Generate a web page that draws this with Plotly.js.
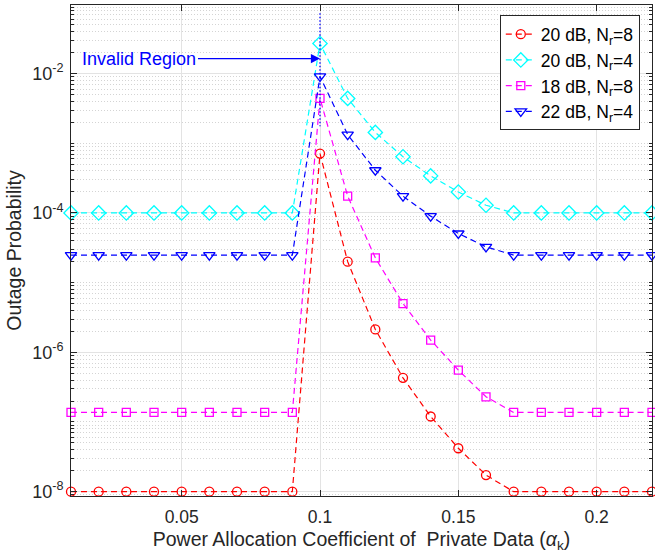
<!DOCTYPE html>
<html>
<head>
<meta charset="utf-8">
<script src="https://cdn.plot.ly/plotly-3.0.1.min.js"></script>
<style>html,body{margin:0;padding:0;background:#fff;}#chart{width:655px;height:560px;}</style>
</head>
<body>
<div id="chart"></div>
<script>
// ---- data ----
const alpha = [0.01,0.02,0.03,0.04,0.05,0.06,0.07,0.08,0.09,0.10,0.11,0.12,0.13,0.14,0.15,0.16,0.17,0.18,0.19,0.20,0.21,0.22];
const red_20dB_Nr8 = [1e-8,1e-8,1e-8,1e-8,1e-8,1e-8,1e-8,1e-8,1e-8,7.1e-4,2.0e-5,2.13e-6,4.3e-7,1.2e-7,4.2e-8,1.73e-8,1e-8,1e-8,1e-8,1e-8,1e-8,1e-8];
const cyan_20dB_Nr4 = [1e-4,1e-4,1e-4,1e-4,1e-4,1e-4,1e-4,1e-4,1e-4,2.7e-2,4.4e-3,1.43e-3,6.4e-4,3.4e-4,2.0e-4,1.29e-4,1e-4,1e-4,1e-4,1e-4,1e-4,1e-4];
const mag_18dB_Nr8 = [1.37e-7,1.37e-7,1.37e-7,1.37e-7,1.37e-7,1.37e-7,1.37e-7,1.37e-7,1.37e-7,4.4e-3,1.74e-4,2.27e-5,5.0e-6,1.5e-6,5.56e-7,2.3e-7,1.37e-7,1.37e-7,1.37e-7,1.37e-7,1.37e-7,1.37e-7];
const blue_22dB_Nr4 = [2.48e-5,2.48e-5,2.48e-5,2.48e-5,2.48e-5,2.48e-5,2.48e-5,2.48e-5,2.48e-5,9.1e-3,1.33e-3,4.1e-4,1.74e-4,9.0e-5,5.07e-5,3.26e-5,2.48e-5,2.48e-5,2.48e-5,2.48e-5,2.48e-5,2.48e-5];
const seriesNames = ["20 dB, N<sub>r</sub>=8","20 dB, N<sub>r</sub>=4","18 dB, N<sub>r</sub>=8","22 dB, N<sub>r</sub>=4"];
const invalidX = [0.1, 0.1];
const invalidY = [0.0733, 0.00175];
const xTickVals = [0.05, 0.1, 0.15, 0.2];
const xTickText = ["0.05", "0.1", "0.15", "0.2"];
const yTickVals = [1e-8, 1e-6, 1e-4, 1e-2];
const yTickText = ["10<sup>-8</sup>","10<sup>-6</sup>","10<sup>-4</sup>","10<sup>-2</sup>"];

// minor (log) tick positions
const yMinor = [];
for (let n = -9; n <= -1; n++) {
  for (let k = 1; k <= 9; k++) {
    const v = k * Math.pow(10, n);
    if (k === 1 && n % 2 === 0) continue;
    yMinor.push(v);
  }
}

const FONT = '"Liberation Sans", Arial, Helvetica, sans-serif';
const AX = '#262626';
const dashPat = '6px,4px';

function tr(y, name, color, symbol, size) {
  return {
    x: alpha, y: y, name: name, type: 'scatter', mode: 'lines+markers',
    cliponaxis: false,
    line: {color: color, width: 1.2, dash: dashPat},
    marker: {symbol: symbol, size: size, color: color, line: {color: color, width: 1.3}}
  };
}

const data = [
  tr(red_20dB_Nr8, seriesNames[0], '#ff0000', 'circle-open', 9),
  tr(cyan_20dB_Nr4, seriesNames[1], '#00ffff', 'diamond-open', 11),
  tr(mag_18dB_Nr8, seriesNames[2], '#ff00ff', 'square-open', 8),
  tr(blue_22dB_Nr4, seriesNames[3], '#0000ff', 'triangle-down-open', 10),
  {x: invalidX, y: invalidY, type: 'scatter', mode: 'lines', showlegend: false,
   line: {color: '#0000ff', width: 1.3, dash: '1.5px,2px'}}
];

const layout = {
  width: 655, height: 560,
  margin: {l: 71, r: 3, t: 5, b: 64},
  paper_bgcolor: '#fff', plot_bgcolor: '#fff',
  font: {family: FONT, color: AX, size: 17},
  showlegend: true,
  legend: {
    x: 0.979, xanchor: 'right', y: 0.979, yanchor: 'top',
    bgcolor: '#fff', bordercolor: AX, borderwidth: 1,
    font: {family: FONT, size: 17.5, color: '#000'},
    tracegroupgap: 0
  },
  xaxis: {
    type: 'linear', range: [0.01, 0.22],
    tickmode: 'array', tickvals: xTickVals, ticktext: xTickText,
    ticks: 'inside', ticklen: 6, tickcolor: AX, tickwidth: 1,
    showline: true, linecolor: AX, linewidth: 1, mirror: 'ticks',
    showgrid: true, gridcolor: '#e3e3e3', gridwidth: 1,
    zeroline: false,
    tickfont: {family: FONT, size: 17.5, color: AX},
    ticklabelstandoff: 5,
    title: {text: 'Power Allocation Coefficient of  Private Data (<i>α</i><sub>k</sub>)', font: {family: FONT, size: 19.5, color: AX}, standoff: 6}
  },
  yaxis: {
    type: 'log', range: [-8.062, -1.016],
    tickmode: 'array', tickvals: yTickVals, ticktext: yTickText,
    ticks: 'inside', ticklen: 6, tickcolor: AX, tickwidth: 1,
    showline: true, linecolor: AX, linewidth: 1, mirror: 'ticks',
    showgrid: true, gridcolor: '#e3e3e3', gridwidth: 1,
    zeroline: false,
    tickfont: {family: FONT, size: 18, color: AX},
    ticklabelstandoff: 3,
    minor: {tickmode: 'array', tickvals: yMinor, ticks: 'inside', ticklen: 3, tickcolor: AX,
            showgrid: true, gridcolor: '#d4d4d4', gridwidth: 1, griddash: '1px,2px'},
    title: {text: 'Outage Probability', font: {family: FONT, size: 19.5, color: AX}, standoff: 5}
  },
  annotations: [{
    x: 0.1, y: -1.785, xref: 'x', yref: 'y',
    text: 'Invalid Region', showarrow: true,
    ax: -122, ay: 0, xanchor: 'right',
    arrowhead: 2, arrowsize: 1.3, arrowwidth: 1.4, arrowcolor: '#0000ff',
    font: {family: FONT, size: 18, color: '#0000ff'}
  }]
};

Plotly.newPlot('chart', data, layout, {displayModeBar: false, staticPlot: true});
</script>
</body>
</html>
